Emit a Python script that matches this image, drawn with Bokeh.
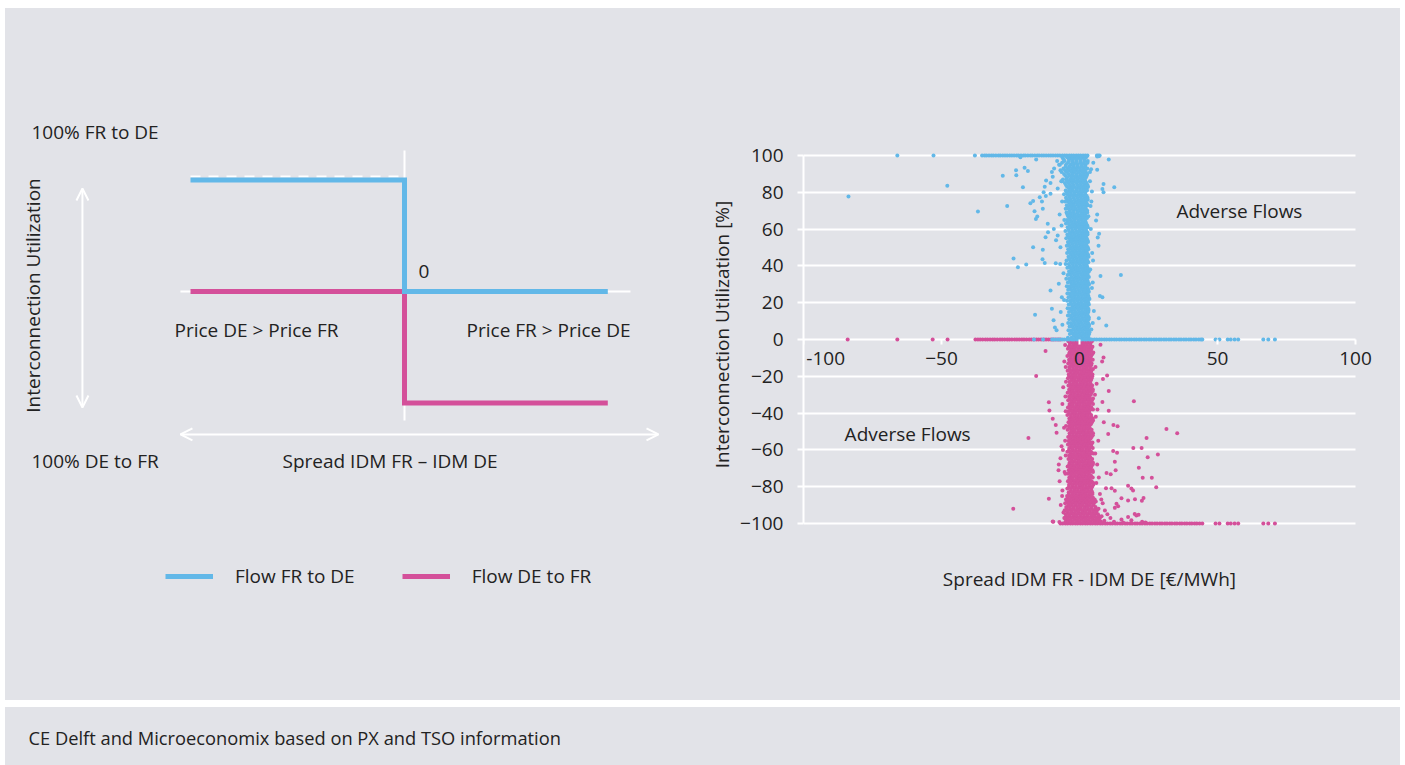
from bokeh.plotting import figure
from bokeh.models import (Range1d, Label, Arrow, OpenHead, Legend, LegendItem,
                          FixedTicker, Spacer)
from bokeh.layouts import column, row
from bokeh.embed import file_html
from bokeh.resources import INLINE

# ---------------- colours / fonts ----------------
BG = "#e2e3e8"
BLUE = "#62b8e8"
PINK = "#d4509a"
TXT = "#222222"
FONT = "Open Sans"
FS = "19px"

# ---------------- schematic (left panel) data ----------------
SPREAD_STEPS = [-1.0, 0.0, 0.0, 0.95]          # spread (schematic units)
FLOW_FR_DE = [97, 97, 0, 0]                     # utilization %
FLOW_DE_FR = [0, 0, -97, -97]
MAX_LEVEL_X = [-1.0, 0.0]
MAX_LEVEL_Y = [100, 100]

# ---------------- scatter (right panel) data ----------------
Y_TICKS = [-100, -80, -60, -40, -20, 0, 20, 40, 60, 80, 100]
X_TICKS = [-100, -50, 0, 50, 100]

# blue (flow FR->DE) dense core: (utilization, spreads)
BLUE_CORE = [
    (99, (-6.2, -4.5, -3.1, -1.7, -0.3, 1.1, 2.4)),
    (98, (-5.8, -3.8, -2.4, -1.0, 0.4, 1.8)),
    (97, (-5.4, -3.8, -2.4, -1.0, 0.4, 1.8, 3.0)),
    (96, (-6.3, -4.2, -2.6, -1.3, 0.2, 1.6, 2.9)),
    (95, (-7.1, -4.9, -3.3, -2.0, -0.6, 0.9, 2.2)),
    (94, (-5.0, -3.6, -2.2, -0.8, 0.6, 2.0)),
    (93, (-5.8, -4.2, -2.7, -1.3, 0.1, 1.5, 2.8)),
    (92, (-6.9, -5.2, -3.7, -2.3, -1.0, 0.5, 1.9)),
    (91, (-6.5, -4.6, -3.0, -1.8, -0.4, 1.0, 2.3)),
    (90, (-5.6, -4.0, -2.6, -1.2, 0.2, 1.5, 2.8)),
    (89, (-5.1, -3.6, -2.3, -0.9, 0.5, 1.7, 2.6)),
    (88, (-4.5, -2.9, -1.5, -0.2, 1.1, 2.3)),
    (87, (-4.8, -3.4, -2.1, -0.7, 0.6, 1.9, -6.0)),
    (86, (-6.4, -4.4, -3.0, -1.7, -0.3, 1.0, 2.1)),
    (85, (-5.3, -3.9, -2.6, -1.2, 0.2, 1.4, 2.5)),
    (84, (-4.9, -3.5, -2.2, -0.8, 0.5, 1.8, 2.9)),
    (83, (-4.5, -3.1, -1.9, -0.5, 0.8, 2.0, 3.1)),
    (82, (-3.8, -2.5, -1.2, 0.1, 1.4, 2.6)),
    (81, (-5.0, -3.7, -2.4, -1.0, 0.3, 1.6, 2.7)),
    (80, (-4.6, -3.3, -1.9, -0.6, 0.7, 2.0)),
    (79, (-4.4, -3.0, -1.7, -0.4, 0.9, 2.1, -5.6)),
    (78, (-3.8, -2.4, -1.1, 0.2, 1.5, 2.6)),
    (77, (-4.9, -3.5, -2.2, -0.8, 0.5, 1.8, 2.9)),
    (76, (-4.5, -3.2, -1.8, -0.5, 0.8, 2.0, 3.0)),
    (75, (-4.2, -2.9, -1.5, -0.2, 1.0, 2.2, -5.2)),
    (74, (-3.6, -2.3, -1.0, 0.3, 1.5, 2.6)),
    (73, (-4.6, -3.3, -2.0, -0.6, 0.7, 1.9, 3.0)),
    (72, (-4.3, -3.0, -1.7, -0.4, 0.9, 2.1)),
    (71, (-4.0, -2.7, -1.4, -0.1, 1.1, 2.3, -5.0)),
    (70, (-3.5, -2.2, -0.9, 0.4, 1.6, 2.8)),
    (69, (-4.7, -3.4, -2.1, -0.7, 0.6, 1.8, 2.8)),
    (68, (-4.4, -3.1, -1.8, -0.5, 0.8, 2.0)),
    (67, (-4.1, -2.8, -1.5, -0.2, 1.0, 2.1, 3.2)),
    (66, (-3.6, -2.3, -1.0, 0.3, 1.5, 2.7)),
    (65, (-4.5, -3.2, -1.9, -0.5, 0.8, 2.0, -5.5)),
    (64, (-4.2, -2.9, -1.6, -0.3, 1.0, 2.2)),
    (63, (-3.9, -2.6, -1.3, 0.0, 1.2, 2.4, -4.9)),
    (62, (-3.5, -2.2, -0.9, 0.4, 1.6, 2.8)),
    (61, (-4.3, -3.0, -1.7, -0.4, 0.9, 2.1, 3.0)),
    (60, (-4.0, -2.7, -1.4, -0.1, 1.1, 2.3)),
    (59, (-3.8, -2.5, -1.2, 0.1, 1.3, 2.5, -5.1)),
    (58, (-3.4, -2.1, -0.8, 0.5, 1.7, 2.9)),
    (57, (-4.4, -3.1, -1.8, -0.5, 0.8, 2.0, 2.9)),
    (56, (-4.1, -2.8, -1.5, -0.2, 1.1, 2.3)),
    (55, (-3.7, -2.4, -1.1, 0.2, 1.4, 2.6, -4.8)),
    (54, (-3.3, -2.0, -0.7, 0.6, 1.8, 2.9)),
    (53, (-4.2, -2.9, -1.6, -0.3, 1.0, 2.2, 3.1)),
    (52, (-3.9, -2.6, -1.3, 0.0, 1.2, 2.4)),
    (51, (-3.6, -2.3, -1.0, 0.3, 1.5, 2.6, -4.6)),
    (50, (-3.2, -1.9, -0.6, 0.7, 1.9, 3.0)),
    (49, (-4.1, -2.8, -1.5, -0.2, 1.1, 2.3, 3.2)),
    (48, (-3.8, -2.5, -1.2, 0.1, 1.4, 2.5)),
    (47, (-3.5, -2.2, -0.9, 0.4, 1.6, 2.7, -4.5)),
    (46, (-3.1, -1.8, -0.5, 0.8, 2.0, 3.1)),
    (45, (-4.0, -2.7, -1.4, -0.1, 1.2, 2.4, 3.3)),
    (44, (-3.7, -2.4, -1.1, 0.2, 1.5, 2.6)),
    (43, (-3.4, -2.1, -0.8, 0.5, 1.7, 2.8, -4.7)),
    (42, (-3.0, -1.7, -0.4, 0.9, 2.1, 3.2)),
    (41, (-3.9, -2.6, -1.3, 0.0, 1.3, 2.5, -5.0)),
    (40, (-3.6, -2.3, -1.0, 0.3, 1.6, 2.7)),
    (39, (-3.3, -2.0, -0.7, 0.6, 1.8, 2.9, -4.4)),
    (38, (-2.9, -1.6, -0.3, 1.0, 2.2, 3.3)),
    (37, (-3.8, -2.5, -1.2, 0.1, 1.4, 2.6, 3.4)),
    (36, (-3.5, -2.2, -0.9, 0.4, 1.7, 2.8)),
    (35, (-3.2, -1.9, -0.6, 0.7, 1.9, 3.0, -4.3)),
    (34, (-2.8, -1.5, -0.2, 1.1, 2.3, 3.4)),
    (33, (-3.7, -2.4, -1.1, 0.2, 1.5, 2.7, -4.8)),
    (32, (-3.4, -2.1, -0.8, 0.5, 1.8, 2.9)),
    (31, (-3.1, -1.8, -0.5, 0.8, 2.0, 3.1, -4.2)),
    (30, (-2.7, -1.4, -0.1, 1.2, 2.4, 3.5)),
    (29, (-3.6, -2.3, -1.0, 0.3, 1.6, 2.8, -4.6)),
    (28, (-3.3, -2.0, -0.7, 0.6, 1.9, 3.0)),
    (27, (-3.0, -1.7, -0.4, 0.9, 2.1, 3.2, -4.1)),
    (26, (-2.6, -1.3, 0.0, 1.3, 2.5, 3.4)),
    (25, (-3.5, -2.2, -0.9, 0.4, 1.7, 2.9, -4.4)),
    (24, (-3.2, -1.9, -0.6, 0.7, 2.0, 3.1)),
    (23, (-2.9, -1.6, -0.3, 1.0, 2.2, 3.3, -4.0)),
    (22, (-2.5, -1.2, 0.1, 1.4, 2.6, 3.6)),
    (21, (-3.4, -2.1, -0.8, 0.5, 1.8, 3.0, -4.5)),
    (20, (-3.1, -1.8, -0.5, 0.8, 2.1, 3.2)),
    (19, (-2.8, -1.5, -0.2, 1.1, 2.3, -3.9, 3.4)),
    (18, (-2.4, -1.1, 0.2, 1.5, 2.7)),
    (17, (-3.3, -2.0, -0.7, 0.6, 1.9, 3.1, -4.3)),
    (16, (-3.0, -1.7, -0.4, 0.9, 2.2, 3.3)),
    (15, (-2.7, -1.4, -0.1, 1.2, 2.4, -3.8, 3.2)),
    (14, (-2.3, -1.0, 0.3, 1.6, 2.8)),
    (13, (-3.2, -1.9, -0.6, 0.7, 2.0, 3.0, -4.2)),
    (12, (-2.9, -1.6, -0.3, 1.0, 2.3, 3.4)),
    (11, (-2.6, -1.3, 0.0, 1.3, 2.5, -3.7, 3.3)),
    (10, (-2.2, -0.9, 0.4, 1.7, 2.9)),
    (9, (-3.1, -1.8, -0.5, 0.8, 2.1, 3.1, -4.1)),
    (8, (-2.8, -1.5, -0.2, 1.1, 2.4, 3.5)),
    (7, (-2.5, -1.2, 0.1, 1.4, 2.6, -3.6, 3.4)),
    (6, (-2.1, -0.8, 0.5, 1.8, 3.0)),
    (5, (-3.0, -1.7, -0.4, 0.9, 2.2, 3.2, -4.0)),
    (4, (-2.7, -1.4, -0.1, 1.2, 2.5, 3.6)),
    (3, (-2.4, -1.1, 0.2, 1.5, 2.7, -3.5, 3.5)),
    (2, (-2.0, -0.7, 0.6, 1.9, 3.1)),
    (1, (-2.9, -1.6, -0.3, 1.0, 2.3, 3.3, -4.2)),
]

# blue rows lying on 100 % and on 0 %
BLUE_ROW_100 = [-66.0, -52.9, -37.9, -35.3, -34.4, -33.7, -32.8, -31.9, -31.2, -30.3,
                -29.4, -28.7, -27.8, -27.0, -26.2, -25.3, -24.5, -23.7, -22.8, -22.1,
                -21.2, -20.3, -19.6, -18.7, -17.8, -17.1, -16.2, -15.3, -14.6, -13.7,
                -12.9, -12.1, -11.2, -10.4, -9.6, -8.7, -7.9, -7.1, -6.2, -5.4, -4.6,
                -3.7, -2.9, -2.1, -1.2, -0.4, 0.4, 1.3, 2.1, 2.9, 6.3, 6.8, 7.3]
BLUE_ROW_0 = [-16.5, -13.2, -9.9, -9.1, -8.1, -7.3, -6.3, -5.5, -4.5, -3.7, -2.7, -1.9,
              -0.9, 0.0, 0.8, 1.8, 2.6, 3.6, 4.4, 5.4, 6.2, 7.2, 8.0, 9.0, 9.8, 10.8,
              11.6, 12.6, 13.4, 14.4, 15.2, 16.2, 17.0, 18.0, 18.8, 19.8, 20.6, 21.6,
              22.4, 23.4, 24.2, 25.2, 26.0, 27.0, 27.8, 28.8, 29.6, 30.6, 31.4, 32.4,
              33.2, 34.2, 35.0, 36.0, 36.8, 37.8, 38.6, 39.6, 40.4, 41.4, 42.2, 43.2,
              44.0, 44.5, 49.3, 50.7, 53.7, 54.8, 56.2, 57.5, 66.6, 68.4, 70.8]

BLUE_OUT_X = [-83.7, -47.9, -36.8, -27.8, -26.2, -23.9, -22.3, -19.3, -22.9, -23.0,
              -19.9, -18.7, -21.4, -15.7, -20.5, -17.8, -16.8, -16.3, -15.3, -15.8,
              -14.4, -13.6, -13.0, -13.3, -16.8, -13.3, -13.4, -12.6, -16.1, -10.5,
              -10.0, -9.4, -8.9, -8.3, -12.1, -10.5, -10.0, -9.2, -9.7, -12.6, -12.2,
              -10.5, -11.5, -11.4, -12.3, -9.3, -8.5, -7.9, -6.9, -8.6, -7.0, -7.5,
              -6.4, -5.6, -6.8, -7.4, -8.1, -6.6, -7.9, -6.3, -7.2, -6.5, -5.8, -6.2,
              6.4, 7.0, 10.6, 6.4, 4.2, 3.8, 8.7, 8.3, 8.7, 12.6, 4.5, 4.3, 4.0, 6.4,
              6.0, 7.1, 6.6, 6.9, 4.6, 4.9, 7.6, 15.0, 4.8, 4.5, 7.4, 8.3, 7.0, 9.7,
              4.8, 4.3, 5.2, 3.9, 4.1, 3.8, 5.0]
BLUE_OUT_Y = [77.7, 83.5, 69.6, 89.0, 72.5, 44.0, 39.3, 40.7, 89.3, 92.0,
              93.4, 91.6, 99.0, 97.8, 82.7, 74.0, 75.3, 69.7, 66.8, 65.5,
              77.3, 75.0, 80.0, 71.0, 50.2, 48.8, 43.6, 41.6, 13.4, 26.6,
              16.7, 10.5, 6.5, 5.0, 86.4, 85.0, 91.0, 93.0, 88.5, 83.0, 78.0,
              79.2, 62.9, 58.3, 55.6, 60.1, 54.0, 56.5, 50.2, 41.5, 41.0, 30.3,
              23.0, 21.5, 15.0, 95.0, 97.0, 86.0, 82.0, 75.0, 68.0, 62.0, 36.0, 8.0,
              99.5, 99.6, 97.8, 92.2, 92.5, 91.0, 84.5, 81.8, 80.0, 82.8, 80.5, 75.0, 72.5, 68.0,
              64.7, 57.5, 55.5, 51.0, 47.0, 43.0, 34.5, 35.1, 31.0, 28.0, 23.6, 23.0, 11.6, 7.6,
              9.0, 5.5, 15.5, 38.0, 60.0, 86.0, 96.0]

# pink (flow DE->FR) dense core
PINK_CORE = [
    (-1, (-4.0, -2.8, -1.5, -0.3, 0.9, 2.1, 3.3, 4.5)),
    (-2, (-3.4, -2.1, -0.9, 0.3, 1.5, 2.7, 3.9)),
    (-3, (-3.5, -2.2, -1.0, 0.3, 1.5, 2.7, 3.9, -5.2)),
    (-4, (-3.9, -2.6, -1.4, -0.1, 1.1, 2.3, 3.6, 4.7)),
    (-5, (-4.2, -3.0, -1.7, -0.5, 0.7, 1.9, 3.1, 4.3)),
    (-6, (-3.1, -1.9, -0.6, 0.6, 1.8, 3.0, 4.1)),
    (-7, (-3.6, -2.4, -1.1, 0.1, 1.3, 2.5, 3.7, 5.0)),
    (-8, (-3.8, -2.5, -1.3, 0.0, 1.2, 2.4, 3.6, 4.6)),
    (-9, (-4.4, -3.1, -1.9, -0.6, 0.6, 1.8, 3.0, 4.2)),
    (-10, (-3.2, -2.0, -0.7, 0.5, 1.7, 2.9, 4.0)),
    (-11, (-3.8, -2.5, -1.3, 0.0, 1.2, 2.4, 3.6, 4.8)),
    (-12, (-3.5, -2.2, -1.0, 0.3, 1.5, 2.7, 3.9)),
    (-13, (-4.1, -2.9, -1.6, -0.4, 0.8, 2.0, 3.2, 4.4)),
    (-14, (-3.0, -1.8, -0.5, 0.7, 1.9, 3.1, 4.2)),
    (-15, (-3.7, -2.4, -1.2, 0.1, 1.3, 2.6, 3.8, -5.0)),
    (-16, (-3.6, -2.3, -1.1, 0.2, 1.4, 2.6, 3.8, 4.9)),
    (-17, (-4.3, -3.0, -1.8, -0.5, 0.7, 1.9, 3.1, 4.3)),
    (-18, (-3.2, -1.9, -0.7, 0.6, 1.8, 3.0, 4.1)),
    (-19, (-3.9, -2.6, -1.4, -0.1, 1.1, 2.3, 3.5, 4.7)),
    (-20, (-3.7, -2.4, -1.2, 0.1, 1.3, 2.5, 3.7, 4.6)),
    (-21, (-4.2, -2.9, -1.7, -0.4, 0.8, 2.0, 3.2, 4.4)),
    (-22, (-3.0, -1.8, -0.5, 0.7, 1.9, 3.1, 4.2)),
    (-23, (-3.6, -2.3, -1.1, 0.2, 1.4, 2.6, 3.8, -4.9)),
    (-24, (-3.4, -2.1, -0.9, 0.4, 1.6, 2.8, 4.0)),
    (-25, (-4.0, -2.8, -1.5, -0.3, 0.9, 2.1, 3.3, 4.6)),
    (-26, (-3.1, -1.9, -0.6, 0.6, 1.8, 3.0, 4.2)),
    (-27, (-3.7, -2.5, -1.2, 0.0, 1.2, 2.4, 3.6, 4.8)),
    (-28, (-3.7, -2.4, -1.2, 0.1, 1.3, 2.5, 3.7, 4.8)),
    (-29, (-4.3, -3.0, -1.8, -0.5, 0.7, 1.9, 3.1, 4.3)),
    (-30, (-3.2, -2.0, -0.7, 0.5, 1.7, 2.9, 4.1)),
    (-31, (-3.8, -2.6, -1.3, -0.1, 1.1, 2.3, 3.5, -5.1)),
    (-32, (-3.5, -2.2, -1.0, 0.2, 1.4, 2.6, 3.8, 4.9)),
    (-33, (-4.1, -2.9, -1.6, -0.4, 0.8, 2.0, 3.2, 4.5)),
    (-34, (-3.0, -1.8, -0.5, 0.7, 1.9, 3.1, 4.3)),
    (-35, (-3.6, -2.4, -1.1, 0.1, 1.3, 2.5, 3.7, 4.9)),
    (-36, (-3.6, -2.4, -1.1, 0.1, 1.3, 2.5, 3.7)),
    (-37, (-4.2, -3.0, -1.7, -0.5, 0.7, 1.9, 3.1, 4.3)),
    (-38, (-3.3, -2.0, -0.8, 0.4, 1.6, 2.8, 4.0, 4.9)),
    (-39, (-3.9, -2.7, -1.4, -0.2, 1.0, 2.2, 3.4, -5.0)),
    (-40, (-3.8, -2.5, -1.3, 0.0, 1.2, 2.4, 3.6)),
    (-41, (-4.4, -3.1, -1.9, -0.6, 0.6, 1.8, 3.0, 4.2)),
    (-42, (-3.1, -1.9, -0.6, 0.6, 1.8, 3.0, 4.2)),
    (-43, (-3.7, -2.5, -1.2, 0.0, 1.2, 2.4, 3.6, 4.8)),
    (-44, (-3.4, -2.2, -0.9, 0.3, 1.5, 2.7, 3.9, 4.9)),
    (-45, (-4.0, -2.8, -1.5, -0.3, 0.9, 2.1, 3.3, 4.5)),
    (-46, (-3.2, -1.9, -0.7, 0.5, 1.7, 2.9, 4.1)),
    (-47, (-3.8, -2.6, -1.3, -0.1, 1.1, 2.3, 3.5, -4.9)),
    (-48, (-3.7, -2.4, -1.2, 0.1, 1.3, 2.5, 3.7)),
    (-49, (-4.3, -3.0, -1.8, -0.5, 0.7, 1.9, 3.1, 4.4)),
    (-50, (-3.0, -1.8, -0.5, 0.7, 1.9, 3.1, 4.3)),
    (-51, (-3.6, -2.4, -1.1, 0.1, 1.3, 2.5, 3.7, 4.9)),
    (-52, (-3.5, -2.3, -1.0, 0.2, 1.4, 2.6, 3.8, 4.8)),
    (-53, (-4.1, -2.9, -1.6, -0.4, 0.8, 2.0, 3.2, 4.4)),
    (-54, (-3.3, -2.0, -0.8, 0.4, 1.6, 2.8, 4.0)),
    (-55, (-3.9, -2.7, -1.4, -0.2, 1.0, 2.2, 3.4, -5.2)),
    (-56, (-3.6, -2.3, -1.1, 0.1, 1.3, 2.5, 3.7, 4.7)),
    (-57, (-4.2, -3.0, -1.7, -0.5, 0.7, 1.9, 3.1, 4.3)),
    (-58, (-3.1, -1.9, -0.6, 0.6, 1.8, 3.0, 4.2)),
    (-59, (-3.7, -2.5, -1.2, 0.0, 1.2, 2.4, 3.6, 4.8)),
    (-60, (-3.8, -2.5, -1.3, 0.0, 1.2, 2.4, 3.6)),
    (-61, (-4.4, -3.1, -1.9, -0.6, 0.6, 1.8, 3.0, 4.2)),
    (-62, (-3.2, -2.0, -0.7, 0.5, 1.7, 2.9, 4.1, 5.0)),
    (-63, (-3.8, -2.6, -1.3, -0.1, 1.1, 2.3, 3.5, -5.0)),
    (-64, (-3.4, -2.2, -0.9, 0.3, 1.5, 2.7, 3.9)),
    (-65, (-4.0, -2.8, -1.5, -0.3, 0.9, 2.1, 3.3, 4.6)),
    (-66, (-3.0, -1.8, -0.5, 0.7, 1.9, 3.1, 4.3)),
    (-67, (-3.6, -2.4, -1.1, 0.1, 1.3, 2.5, 3.7, 4.9)),
    (-68, (-3.7, -2.4, -1.2, 0.1, 1.3, 2.5, 3.7, 4.8)),
    (-69, (-4.3, -3.0, -1.8, -0.5, 0.7, 1.9, 3.1, 4.3)),
    (-70, (-3.3, -2.0, -0.8, 0.4, 1.6, 2.8, 4.0)),
    (-71, (-3.9, -2.7, -1.4, -0.2, 1.0, 2.2, 3.4, 4.7)),
    (-72, (-3.5, -2.2, -1.0, 0.3, 1.5, 2.7, 3.9, 4.9)),
    (-73, (-4.1, -2.9, -1.6, -0.4, 0.8, 2.0, 3.2, -5.1)),
    (-74, (-3.1, -1.9, -0.6, 0.6, 1.8, 3.0, 4.2)),
    (-75, (-3.7, -2.5, -1.2, 0.0, 1.2, 2.4, 3.6, 4.8)),
    (-76, (-3.6, -2.4, -1.1, 0.1, 1.3, 2.5, 3.7)),
    (-77, (-4.2, -3.0, -1.7, -0.5, 0.7, 1.9, 3.1, 4.4)),
    (-78, (-3.2, -1.9, -0.7, 0.5, 1.7, 2.9, 4.1, 5.0)),
    (-79, (-3.8, -2.6, -1.3, -0.1, 1.1, 2.3, 3.5, 5.0)),
    (-80, (-3.8, -2.5, -1.3, 0.0, 1.2, 2.4, 3.6, 4.6)),
    (-81, (-4.4, -3.1, -1.9, -0.6, 0.6, 1.8, 3.0, 4.2)),
    (-82, (-3.1, -1.8, -0.6, 0.7, 1.9, 3.1, 4.3)),
    (-83, (-3.9, -2.7, -1.4, -0.2, 1.0, 2.2, 3.4, 4.6)),
    (-84, (-3.9, -2.6, -1.3, -0.1, 1.1, 2.3, 3.5, 4.7)),
    (-85, (-4.5, -3.2, -2.0, -0.7, 0.5, 1.7, 2.9, 4.1)),
    (-86, (-4.2, -2.9, -1.6, -0.3, 1.0, 2.3, 3.6, 4.9)),
    (-87, (-4.9, -3.6, -2.3, -1.0, 0.3, 1.6, 2.9, 4.2, 5.5)),
    (-88, (-4.5, -3.2, -1.9, -0.6, 0.7, 2.0, 3.3, 4.6, 5.9)),
    (-89, (-5.2, -3.9, -2.6, -1.3, 0.0, 1.3, 2.6, 3.9, 5.2)),
    (-90, (-4.1, -2.8, -1.5, -0.2, 1.1, 2.4, 3.7, 5.0)),
    (-91, (-4.8, -3.5, -2.2, -0.9, 0.4, 1.7, 3.0, 4.3, 5.8)),
    (-92, (-4.7, -3.4, -2.1, -0.8, 0.5, 1.8, 3.1, 4.4, 5.7)),
    (-93, (-5.4, -4.1, -2.8, -1.5, -0.2, 1.1, 2.4, 3.7, 5.0, 6.3)),
    (-94, (-4.3, -3.0, -1.7, -0.4, 0.9, 2.2, 3.5, 4.8, 6.0)),
    (-95, (-5.0, -3.7, -2.4, -1.1, 0.2, 1.5, 2.8, 4.1, 5.4, 6.7)),
    (-96, (-4.8, -3.5, -2.2, -0.9, 0.4, 1.7, 3.0, 4.3, 5.6, 6.9)),
    (-97, (-5.5, -4.2, -2.9, -1.6, -0.3, 1.0, 2.3, 3.6, 4.9, 6.2, 7.4)),
    (-98, (-4.5, -3.2, -1.9, -0.6, 0.7, 2.0, 3.3, 4.6, 5.9, 7.1)),
    (-99, (-5.1, -3.8, -2.5, -1.2, 0.1, 1.4, 2.7, 4.0, 5.3, 6.6, 7.8)),
]

PINK_ROW_0 = [-84.0, -66.0, -53.2, -47.8, -37.7, -36.8, -36.0, -35.1, -34.1, -33.3,
              -32.4, -31.5, -30.7, -29.8, -28.8, -28.0, -27.1, -26.2, -25.4, -24.5,
              -23.5, -22.7, -21.8, -20.9, -20.1, -19.2, -18.2, -17.4, -16.5, -15.6,
              -14.8, -13.9, -12.9, -12.1, -11.2, -10.3, -9.5, -8.6, -7.7, -6.9]
PINK_ROW_M100 = [-9.5, -7.3, -6.9, -6.1, -5.1, -4.3, -3.3, -2.5, -1.5, -0.7, 0.3, 1.1,
                 2.1, 2.9, 3.9, 4.7, 5.7, 6.5, 7.5, 8.3, 9.3, 10.1, 11.1, 11.9, 12.9,
                 13.7, 14.7, 15.5, 16.5, 17.3, 18.3, 19.1, 20.1, 20.9, 21.9, 22.7,
                 23.7, 24.5, 25.5, 26.3, 27.3, 28.1, 29.1, 29.9, 30.9, 31.7, 32.7,
                 33.5, 34.5, 35.3, 36.3, 37.1, 38.1, 38.9, 39.9, 40.7, 41.7, 42.5,
                 43.5, 44.5, 49.3, 50.7, 53.7, 54.8, 56.2, 57.5, 66.6, 68.4, 70.8]
PINK_ROW_M100_Y = [-99.0, -99.2] + [-100.0] * (len(PINK_ROW_M100) - 2)

PINK_OUT_X = [-12.3, -15.7, -11.1, -10.9, -9.7, -8.6, -18.5, -8.3, -6.9, -7.6, -7.2,
              -11.1, -9.7, -24.0, -6.5, -7.5, -6.2, -6.8,
              7.6, 8.7, 8.2, 10.0, 8.5, 10.6, 8.3, 19.7, 10.6, 8.8, 12.3, 13.8, 10.4,
              31.5, 35.4, 24.3, 19.5, 22.5, 12.2, 13.6, 28.4, 24.7, 12.8, 13.1, 21.5,
              11.3, 9.8, 22.9, 26.2, 27.8, 17.6, 18.8, 19.4, 9.6, 11.6, 12.8, 15.2,
              17.6, 20.1, 23.2, 22.6, 13.4, 14.0, 12.8, 20.0, 20.6, 21.4, 17.6, 18.8,
              22.7, 23.9, 15.2, 15.8,
              5.8, 6.2, 5.6, 6.5, 5.9, 6.8, 5.7, 6.4, 7.0, 6.1, 7.4, 7.9, 8.4, 6.9,
              9.2, 10.1, 8.0, 11.2, 9.0, 12.5, -5.5, -5.9, -6.2, -5.6, -6.0, -5.4,
              -6.3, -5.8, -5.3]
PINK_OUT_Y = [-6.3, -19.9, -34.1, -38.6, -43.1, -46.5, -53.6, -50.7, -64.5, -71.0, -77.0,
              -86.6, -98.9, -92.0, -58.0, -68.0, -82.0, -90.0,
              -2.9, -9.8, -12.0, -19.6, -21.4, -28.0, -34.0, -33.5, -38.7, -45.0, -46.5, -47.2, -51.4,
              -48.6, -50.9, -53.6, -58.9, -58.9, -60.6, -61.5, -62.5, -64.0, -66.5, -71.0, -69.7,
              -73.2, -72.5, -75.2, -75.2, -80.3, -79.5, -81.0, -82.0, -80.8, -80.8, -82.2, -86.3,
              -87.5, -86.8, -86.2, -87.6, -89.3, -90.6, -91.5, -94.8, -95.7, -95.2, -96.4, -98.2,
              -99.0, -99.5, -97.8, -99.5,
              -15.0, -24.0, -30.0, -38.0, -42.0, -55.0, -62.0, -68.0, -75.0, -78.0, -84.0, -87.0, -89.0, -92.0,
              -93.0, -95.0, -96.0, -97.0, -98.5, -99.0, -12.0, -26.0, -35.0, -48.0, -60.0, -72.0,
              -85.0, -94.0, -97.0]


def flatten(core):
    xs, ys = [], []
    for yv, row_x in core:
        for xv in row_x:
            xs.append(xv)
            ys.append(yv)
    return xs, ys


bcx, bcy = flatten(BLUE_CORE)
pcx, pcy = flatten(PINK_CORE)
blue_x = bcx + BLUE_ROW_100 + BLUE_ROW_0 + BLUE_OUT_X
blue_y = bcy + [100.0] * len(BLUE_ROW_100) + [0.0] * len(BLUE_ROW_0) + BLUE_OUT_Y
pink_x = pcx + PINK_ROW_0 + PINK_ROW_M100 + PINK_OUT_X
pink_y = pcy + [0.0] * len(PINK_ROW_0) + PINK_ROW_M100_Y + PINK_OUT_Y

# ====================== layout geometry ======================
TOP_H = 692            # height of the upper grey panel
BOTTOM_B = 40          # common bottom border of both upper plots
FRAME_H = TOP_H - BOTTOM_B
GREY = {"background-color": BG}

# ====================== LEFT: schematic ======================
L_W = 700
PX_U, PX_V = 214.0, 1.15          # px per schematic unit
OX, OY = 399.0, 283.0             # origin position inside the panel
left = figure(width=L_W, height=TOP_H,
              x_range=Range1d(-OX / PX_U, (L_W - OX) / PX_U),
              y_range=Range1d(-(FRAME_H - OY) / PX_V, OY / PX_V),
              x_axis_type=None, y_axis_type=None, toolbar_location=None,
              output_backend="svg", min_border_left=0, min_border_right=0,
              min_border_top=0, min_border_bottom=BOTTOM_B,
              background_fill_color=BG, border_fill_color=BG,
              outline_line_color=None, styles=GREY)
left.grid.visible = False

# white axes of schematic
left.line([0, 0], [122.6, -112.2], line_color="white", line_width=2)
left.line([-1.047, 1.056], [0, 0], line_color="white", line_width=2)
left.line(MAX_LEVEL_X, MAX_LEVEL_Y, line_color="white", line_width=2,
          line_dash="10 8")

r_pink = left.line(SPREAD_STEPS, FLOW_DE_FR, line_color=PINK, line_width=5,
                   line_join="miter")
r_blue = left.line(SPREAD_STEPS, FLOW_FR_DE, line_color=BLUE, line_width=5,
                   line_join="miter")

for (xs, ys, xe, ye) in [(-1.505, 89.6, -1.505, -100.9),
                         (-1.047, -124.3, 1.187, -124.3)]:
    left.add_layout(Arrow(start=OpenHead(size=12, line_color="white", line_width=2),
                          end=OpenHead(size=12, line_color="white", line_width=2),
                          x_start=xs, y_start=ys, x_end=xe, y_end=ye,
                          line_color="white", line_width=2))


def lab(fig, x, y, text, align="left", angle=0, size=FS):
    fig.add_layout(Label(x=x, y=y, text=text, text_font=FONT, text_font_size=size,
                         text_color=TXT, text_align=align, text_baseline="middle",
                         angle=angle, angle_units="deg"))


lab(left, -1.743, 138.3, "100% FR to DE")
lab(left, -1.743, -147.0, "100% DE to FR")
lab(left, -1.734, -3.5, "Interconnection Utilization", align="center", angle=90)
lab(left, 0.065, 17.4, "0")
lab(left, -1.075, -33.9, "Price DE > Price FR")
lab(left, 0.29, -33.9, "Price FR > Price DE")
lab(left, -0.57, -147.0, "Spread IDM FR \u2013 IDM DE")

legend = Legend(items=[LegendItem(label="Flow FR to DE", renderers=[r_blue]),
                       LegendItem(label="Flow DE to FR", renderers=[r_pink])],
                orientation="horizontal", location=(160, 71),
                glyph_width=48, glyph_height=24, label_standoff=22, spacing=47,
                padding=0, margin=0, background_fill_alpha=0,
                border_line_alpha=0, label_text_font=FONT,
                label_text_font_size=FS, label_text_color=TXT)
left.add_layout(legend)

# ====================== RIGHT: scatter ======================
R_W = 695
R_LEFT = 98                       # border left of the frame
PX_X, PX_Y = 2.76, 1.84           # px per data unit
Y_ZERO = 331.0                    # px of utilization 0 from panel top
R_FRAME_W = R_W - R_LEFT
right = figure(width=R_W, height=TOP_H,
               min_border_left=R_LEFT, min_border_right=0,
               min_border_top=0, min_border_bottom=BOTTOM_B,
               x_range=Range1d(-100, -100 + R_FRAME_W / PX_X),
               y_range=Range1d(-(FRAME_H - Y_ZERO) / PX_Y, Y_ZERO / PX_Y),
               toolbar_location=None, output_backend="svg",
               background_fill_color=BG, border_fill_color=BG,
               outline_line_color=None, styles=GREY)
right.xgrid.visible = False
yg = right.ygrid[0]
if "cross_bounds" in yg.properties():
    yg.ticker = FixedTicker(ticks=Y_TICKS)
    yg.grid_line_color = "white"
    yg.grid_line_width = 2
    yg.cross_bounds = (-100, 100)
else:
    yg.visible = False
    right.segment(x0=[-100] * len(Y_TICKS), x1=[100] * len(Y_TICKS),
                  y0=Y_TICKS, y1=Y_TICKS, line_color="white", line_width=2)

ya = right.yaxis[0]
ya.ticker = FixedTicker(ticks=Y_TICKS)
ya.bounds = (-100, 100)
ya.axis_line_color = "white"
ya.axis_line_width = 2
ya.major_tick_line_color = "white"
ya.major_tick_line_width = 2
ya.major_tick_out = 6
ya.major_tick_in = 0
ya.minor_tick_line_color = None
ya.major_label_standoff = 14
ya.major_label_text_font = FONT
ya.major_label_text_font_size = FS
ya.major_label_text_color = TXT
ya.axis_label = "Interconnection Utilization [%]"
ya.axis_label_text_font = FONT
ya.axis_label_text_font_size = FS
ya.axis_label_text_font_style = "normal"
ya.axis_label_text_color = TXT
ya.axis_label_standoff = 2

xa = right.xaxis[0]
xa.fixed_location = 0
xa.ticker = FixedTicker(ticks=X_TICKS)
xa.axis_line_color = None
xa.major_tick_line_color = "white"
xa.major_tick_line_width = 2
xa.major_tick_out = 5
xa.major_tick_in = 0
xa.minor_tick_line_color = None
xa.major_label_standoff = 0
xa.major_label_text_font = FONT
xa.major_label_text_font_size = FS
xa.major_label_text_color = TXT
xa.major_label_overrides = {-100: "\u00a0" * 9 + "-100"}

right.scatter(pink_x, pink_y, marker="circle", size=4, fill_color=PINK,
              line_color=None)
right.scatter(blue_x, blue_y, marker="circle", size=4, fill_color=BLUE,
              line_color=None)

lab(right, 35.1, 69.6, "Adverse Flows")
lab(right, -85.1, -51.6, "Adverse Flows")
lab(right, 3.6, -129.9, "Spread IDM FR - IDM DE [\u20ac/MWh]", align="center")

# ====================== FOOTER ======================
F_W, F_H = 1395, 58
foot = figure(width=F_W, height=F_H, x_range=Range1d(0, F_W), y_range=Range1d(0, F_H),
              x_axis_type=None, y_axis_type=None, toolbar_location=None,
              output_backend="svg", min_border=0, background_fill_color=BG,
              border_fill_color=BG, outline_line_color=None, styles=GREY)
foot.grid.visible = False
lab(foot, 23, 28, "CE Delft and Microeconomix based on PX and TSO information",
    size="18.3px")

layout = column(Spacer(height=8),
                row(Spacer(width=5), row(left, right, styles=GREY)),
                Spacer(height=7),
                row(Spacer(width=5), foot))
open("out.html", "w").write(file_html(layout, INLINE))
